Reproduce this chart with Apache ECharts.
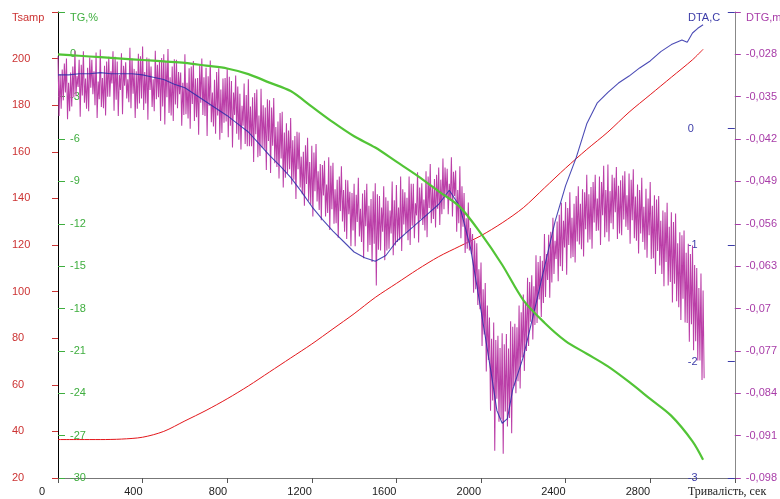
<!DOCTYPE html>
<html><head><meta charset="utf-8">
<script src="https://cdn.jsdelivr.net/npm/echarts/dist/echarts.min.js"></script>
<style>html,body{margin:0;padding:0;background:#fff}#c{width:780px;height:499px}</style>
</head><body><div id="c"></div>
<script>
// ---- data ----
const timeGrid = [0,100,200,300,400,500,600,700,800,900,1000,1100,1200,1300,1400,1500,1600,1700,1800,1900,2000,2100,2200,2300,2400,2500,2600,2700,2800,2900,3000,3050];
const tsamp = [36.5,36.5,36.5,36.7,37.5,40.0,44.5,49.0,54.0,59.5,65.5,71.5,77.5,84.0,90.5,97.5,103.5,109.5,115.0,119.5,124.0,129.5,136.0,144.5,153.0,161.0,168.5,177.0,184.5,192.0,199.5,204.0];
const tg = [0.0,-0.1,-0.2,-0.3,-0.4,-0.5,-0.6,-0.8,-1.0,-1.4,-2.0,-2.6,-3.7,-4.8,-5.8,-6.6,-7.6,-8.6,-9.7,-10.8,-12.7,-14.9,-17.4,-19.0,-20.3,-21.2,-22.1,-23.2,-24.4,-25.6,-27.4,-28.7];
const dtaTime = [0,50,100,150,200,250,300,350,400,450,500,550,600,650,700,750,800,850,900,950,1000,1050,1100,1150,1200,1250,1300,1350,1400,1450,1500,1550,1600,1650,1700,1750,1800,1850,1900,1950,2000,2050,2075,2100,2125,2150,2200,2250,2300,2350,2400,2450,2500,2550,2600,2650,2700,2750,2800,2850,2900,2950,2975,3000,3025,3050];
const dta = [0.46,0.46,0.47,0.47,0.48,0.47,0.47,0.47,0.46,0.44,0.42,0.38,0.35,0.29,0.23,0.17,0.11,0.04,-0.03,-0.13,-0.23,-0.32,-0.42,-0.54,-0.67,-0.78,-0.88,-0.97,-1.06,-1.11,-1.14,-1.09,-0.97,-0.89,-0.81,-0.73,-0.65,-0.53,-0.67,-1.02,-1.56,-2.12,-2.42,-2.53,-2.49,-2.24,-1.96,-1.58,-1.19,-0.80,-0.49,-0.25,0.04,0.22,0.31,0.39,0.45,0.52,0.58,0.66,0.72,0.76,0.74,0.82,0.86,0.89];
// DTG oscillation, one cycle every dtgPeriod seconds from dtgStart:
// big spike top (A) at +0, big spike bottom (A) at +5, small spike top (B) at +10, small spike bottom (B) at +15
const dtgStart = 0, dtgPeriod = 20;
const dtgPeaksA = [
-0.0283,-0.0305,-0.0287,-0.0310,-0.0274, -0.0289,-0.0275,-0.0302,-0.0289,-0.0277,
-0.0272,-0.0299,-0.0284,-0.0275,-0.0292, -0.0278,-0.0293,-0.0269,-0.0304,-0.0279,
-0.0267,-0.0285,-0.0300,-0.0274,-0.0290, -0.0280,-0.0271,-0.0300,-0.0289,-0.0310,
-0.0280,-0.0303,-0.0291,-0.0319,-0.0287, -0.0302,-0.0290,-0.0322,-0.0303,-0.0320,
-0.0303,-0.0324,-0.0315,-0.0345,-0.0328, -0.0321,-0.0351,-0.0338,-0.0337,-0.0368,
-0.0356,-0.0352,-0.0391,-0.0375,-0.0394, -0.0385,-0.0415,-0.0409,-0.0441,-0.0418,
-0.0431,-0.0428,-0.0461,-0.0456,-0.0450, -0.0459,-0.0487,-0.0465,-0.0487,-0.0507,
-0.0494,-0.0484,-0.0510,-0.0494,-0.0519, -0.0493,-0.0514,-0.0498,-0.0522,-0.0490,
-0.0496,-0.0482,-0.0508,-0.0482,-0.0494, -0.0475,-0.0493,-0.0473,-0.0461,-0.0486,
-0.0467,-0.0452,-0.0469,-0.0450,-0.0472, -0.0465,-0.0509,-0.0525,-0.0577,-0.0592,
-0.0624,-0.0658,-0.0715,-0.0723,-0.0745, -0.0741,-0.0742,-0.0721,-0.0725,-0.0695,
-0.0677,-0.0649,-0.0645,-0.0612,-0.0613, -0.0577,-0.0578,-0.0550,-0.0556,-0.0525,
-0.0524,-0.0508,-0.0527,-0.0498,-0.0503, -0.0479,-0.0499,-0.0479,-0.0482,-0.0464,
-0.0462,-0.0479,-0.0466,-0.0488,-0.0473, -0.0477,-0.0470,-0.0495,-0.0484,-0.0502,
-0.0491,-0.0513,-0.0514,-0.0538,-0.0525, -0.0541,-0.0543,-0.0574,-0.0571,-0.0593,
-0.0596,-0.0633,-0.0642];
const dtgTroughsA = [
-0.0382,-0.0356,-0.0387,-0.0366,-0.0349, -0.0383,-0.0360,-0.0374,-0.0346,-0.0385,
-0.0367,-0.0381,-0.0350,-0.0373,-0.0382, -0.0379,-0.0353,-0.0369,-0.0385,-0.0361,
-0.0372,-0.0388,-0.0367,-0.0354,-0.0390, -0.0396,-0.0377,-0.0390,-0.0369,-0.0398,
-0.0379,-0.0403,-0.0390,-0.0413,-0.0380, -0.0415,-0.0392,-0.0411,-0.0421,-0.0393,
-0.0417,-0.0434,-0.0411,-0.0437,-0.0428, -0.0432,-0.0458,-0.0450,-0.0434,-0.0471,
-0.0476,-0.0460,-0.0485,-0.0500,-0.0477, -0.0495,-0.0519,-0.0500,-0.0530,-0.0522,
-0.0548,-0.0523,-0.0554,-0.0548,-0.0570, -0.0560,-0.0583,-0.0556,-0.0585,-0.0597,
-0.0597,-0.0581,-0.0617,-0.0606,-0.0623, -0.0662,-0.0604,-0.0620,-0.0601,-0.0612,
-0.0590,-0.0605,-0.0575,-0.0595,-0.0584, -0.0591,-0.0562,-0.0582,-0.0559,-0.0566,
-0.0562,-0.0536,-0.0544,-0.0548,-0.0573, -0.0584,-0.0608,-0.0604,-0.0674,-0.0694,
-0.0762,-0.0804,-0.0869,-0.0935,-0.0887, -0.0940,-0.0895,-0.0906,-0.0840,-0.0832,
-0.0803,-0.0762,-0.0751,-0.0724,-0.0714, -0.0681,-0.0682,-0.0643,-0.0655,-0.0638,
-0.0644,-0.0617,-0.0624,-0.0594,-0.0614, -0.0591,-0.0601,-0.0572,-0.0595,-0.0582,
-0.0589,-0.0569,-0.0585,-0.0579,-0.0565, -0.0593,-0.0584,-0.0609,-0.0590,-0.0616,
-0.0618,-0.0643,-0.0629,-0.0663,-0.0662, -0.0690,-0.0688,-0.0719,-0.0723,-0.0755,
-0.0769,-0.0786,-0.0818];
const dtgPeaksB = [
-0.0313,-0.0295,-0.0327,-0.0300,-0.0316, -0.0297,-0.0320,-0.0285,-0.0308,-0.0325,
-0.0319,-0.0292,-0.0308,-0.0284,-0.0314, -0.0299,-0.0321,-0.0287,-0.0308,-0.0283,
-0.0309,-0.0287,-0.0321,-0.0297,-0.0286, -0.0292,-0.0318,-0.0288,-0.0309,-0.0327,
-0.0327,-0.0300,-0.0320,-0.0298,-0.0318, -0.0316,-0.0343,-0.0309,-0.0338,-0.0319,
-0.0317,-0.0343,-0.0333,-0.0365,-0.0347, -0.0366,-0.0344,-0.0381,-0.0364,-0.0354,
-0.0368,-0.0400,-0.0377,-0.0409,-0.0406, -0.0422,-0.0408,-0.0449,-0.0430,-0.0458,
-0.0442,-0.0473,-0.0463,-0.0495,-0.0464, -0.0503,-0.0482,-0.0504,-0.0488,-0.0509,
-0.0512,-0.0535,-0.0504,-0.0530,-0.0506, -0.0511,-0.0533,-0.0516,-0.0538,-0.0521,
-0.0533,-0.0503,-0.0517,-0.0494,-0.0526, -0.0500,-0.0520,-0.0482,-0.0499,-0.0479,
-0.0487,-0.0467,-0.0494,-0.0474,-0.0504, -0.0498,-0.0551,-0.0567,-0.0587,-0.0635,
-0.0668,-0.0695,-0.0750,-0.0752,-0.0765, -0.0759,-0.0766,-0.0730,-0.0731,-0.0706,
-0.0689,-0.0656,-0.0663,-0.0623,-0.0621, -0.0610,-0.0573,-0.0588,-0.0545,-0.0555,
-0.0534,-0.0550,-0.0514,-0.0527,-0.0508, -0.0511,-0.0491,-0.0518,-0.0491,-0.0504,
-0.0506,-0.0484,-0.0497,-0.0480,-0.0513, -0.0487,-0.0515,-0.0504,-0.0532,-0.0518,
-0.0530,-0.0520,-0.0555,-0.0541,-0.0565, -0.0557,-0.0592,-0.0579,-0.0608,-0.0610,
-0.0628,-0.0666,-0.0670];
const dtgTroughsB = [
-0.0370,-0.0343,-0.0374,-0.0351,-0.0334, -0.0348,-0.0370,-0.0335,-0.0364,-0.0354,
-0.0369,-0.0350,-0.0328,-0.0355,-0.0339, -0.0332,-0.0359,-0.0345,-0.0370,-0.0353,
-0.0361,-0.0339,-0.0374,-0.0351,-0.0366, -0.0351,-0.0381,-0.0363,-0.0346,-0.0380,
-0.0386,-0.0362,-0.0384,-0.0360,-0.0382, -0.0365,-0.0399,-0.0381,-0.0410,-0.0391,
-0.0398,-0.0380,-0.0421,-0.0398,-0.0432, -0.0432,-0.0412,-0.0448,-0.0436,-0.0423,
-0.0431,-0.0466,-0.0452,-0.0484,-0.0470, -0.0487,-0.0470,-0.0511,-0.0494,-0.0528,
-0.0506,-0.0537,-0.0513,-0.0542,-0.0536, -0.0559,-0.0539,-0.0573,-0.0544,-0.0571,
-0.0557,-0.0590,-0.0564,-0.0595,-0.0593, -0.0603,-0.0573,-0.0604,-0.0576,-0.0596,
-0.0587,-0.0561,-0.0587,-0.0563,-0.0546, -0.0552,-0.0571,-0.0534,-0.0552,-0.0535,
-0.0544,-0.0515,-0.0522,-0.0514,-0.0559, -0.0565,-0.0601,-0.0610,-0.0668,-0.0701,
-0.0743,-0.0785,-0.0852,-0.0849,-0.0883, -0.0870,-0.0881,-0.0828,-0.0820,-0.0781,
-0.0770,-0.0722,-0.0727,-0.0685,-0.0691, -0.0653,-0.0657,-0.0618,-0.0630,-0.0599,
-0.0595,-0.0615,-0.0589,-0.0602,-0.0569, -0.0586,-0.0558,-0.0571,-0.0546,-0.0574,
-0.0559,-0.0541,-0.0576,-0.0553,-0.0570, -0.0554,-0.0588,-0.0576,-0.0603,-0.0579,
-0.0617,-0.0605,-0.0643,-0.0623,-0.0656, -0.0659,-0.0698,-0.0684,-0.0724,-0.0726,
-0.0754,-0.0786,-0.0815];
// tick labels
const xTicks = ['0','400','800','1200','1600','2000','2400','2800'];
const xTitle = 'Тривалість, сек';
const tsampTicks = ['20','40','60','80','100','120','140','160','180','200'];
const tgTicks = ['-30','-27','-24','-21','-18','-15','-12','-9','-6','-3','0'];
const dtaTicks = ['-3','-2','-1','0'];
const dtgTicks = ['-0,098','-0,091','-0,084','-0,077','-0,07','-0,063','-0,056','-0,049','-0,042','-0,035','-0,028'];
const axisTitles = ['Tsamp','TG,%','DTA,C','DTG,m'];

// ---- build ----
const C = {red:'#e3161b', redT:'#cc3333', green:'#52c436', greenT:'#3fae3f', blue:'#2b2ba8', blueT:'#3c3ca8', purple:'#bb3fa8', purpleT:'#a83ca8'};
const FONT = 'Liberation Sans';
const pair = (xs, ys) => xs.map((x, i) => [x, ys[i]]);
const dtgData = [];
const q = dtgPeriod / 4;
for (let i = 0; i < dtgPeaksA.length; i++) {
  const t = dtgStart + i * dtgPeriod;
  dtgData.push([t, dtgPeaksA[i]]);
  dtgData.push([t + q, dtgTroughsA[i]]);
  dtgData.push([t + 2 * q, dtgPeaksB[i]]);
  dtgData.push([t + 3 * q, dtgTroughsB[i]]);
}
function fmt(list, min, step) {
  return v => { const k = Math.round((v - min) / step); return list[k] !== undefined ? list[k] : ''; };
}
function yAxis(o) {
  return Object.assign({type: 'value', splitLine: {show: false}}, o);
}
const chart = echarts.init(document.getElementById('c'), null, {renderer: 'canvas'});
chart.setOption({
  animation: false,
  backgroundColor: '#fff',
  grid: {left: 58, right: 45, top: 12, bottom: 21, containLabel: false},
  xAxis: {
    type: 'value', min: 0, max: 3200, interval: 400,
    splitLine: {show: false},
    axisLine: {onZero: false, lineStyle: {color: '#777', width: 1}},
    axisTick: {show: true, length: 5, lineStyle: {color: '#555'}},
    axisLabel: {
      margin: 8, align: 'right', fontFamily: FONT, fontSize: 11, color: '#222',
      formatter: v => { const k = Math.round(v / 400); if (k === 0) return '{z|0}'; return xTicks[k] || ''; },
      rich: {z: {fontFamily: FONT, fontSize: 11, color: '#222', padding: [0, 13, 0, 0]}}
    }
  },
  yAxis: [
    yAxis({min: 20, max: 220, interval: 20, position: 'left',
      axisLine: {show: true, onZero: false, lineStyle: {color: '#000'}},
      axisTick: {show: true, inside: false, length: 6, lineStyle: {color: C.redT}},
      axisLabel: {inside: false, margin: 46, align: 'left', color: C.redT, fontFamily: FONT, fontSize: 11, padding: [0,0,8,0], formatter: fmt(tsampTicks, 20, 20)}}),
    yAxis({min: -30, max: 3, interval: 3, position: 'left',
      axisLine: {show: false, onZero: false},
      axisTick: {show: true, inside: true, length: 7, lineStyle: {color: C.greenT}},
      axisLabel: {inside: true, margin: 12, align: 'left', color: C.greenT, fontFamily: FONT, fontSize: 11, padding: [0,0,8,0], formatter: fmt(tgTicks, -30, 3)}}),
    yAxis({min: -3, max: 1, interval: 1, position: 'right',
      axisLine: {show: true, onZero: false, lineStyle: {color: '#888'}},
      axisTick: {show: true, inside: true, length: 7, lineStyle: {color: C.blueT}},
      axisLabel: {inside: true, margin: 47, align: 'left', color: C.blueT, fontFamily: FONT, fontSize: 11, padding: [0,0,8,0], formatter: fmt(dtaTicks, -3, 1)}}),
    yAxis({min: -0.098, max: -0.021, interval: 0.007, position: 'right',
      axisLine: {show: false, onZero: false},
      axisTick: {show: true, inside: false, length: 6, lineStyle: {color: C.purpleT}},
      axisLabel: {inside: false, margin: 11, align: 'left', color: C.purpleT, fontFamily: FONT, fontSize: 11, padding: [0,0,8,0], formatter: fmt(dtgTicks, -0.098, 0.007)}})
  ],
  graphic: [
    {type: 'text', left: 12, top: 12, style: {text: axisTitles[0], fill: C.redT, font: '11px ' + FONT}},
    {type: 'text', left: 70, top: 12, style: {text: axisTitles[1], fill: C.greenT, font: '11px ' + FONT}},
    {type: 'text', left: 688, top: 12, style: {text: axisTitles[2], fill: C.blueT, font: '11px ' + FONT}},
    {type: 'text', left: 746, top: 12, style: {text: axisTitles[3], fill: C.purpleT, font: '11px ' + FONT}},
    {type: 'text', left: 688, top: 486, style: {text: xTitle, fill: '#222', font: '12px Liberation Serif'}}
  ],
  series: [
    {name: 'Tsamp', type: 'line', yAxisIndex: 0, data: pair(timeGrid, tsamp), showSymbol: false, smooth: 0.3, z: 2,
      lineStyle: {color: C.red, width: 1}},
    {name: 'DTG', type: 'line', yAxisIndex: 3, data: dtgData, showSymbol: false, z: 3,
      lineStyle: {color: C.purple, width: 1.05}},
    {name: 'DTA', type: 'line', yAxisIndex: 2, data: pair(dtaTime, dta), showSymbol: false, z: 4,
      lineStyle: {color: C.blue, width: 1.1, opacity: 0.85}},
    {name: 'TG', type: 'line', yAxisIndex: 1, data: pair(timeGrid, tg), showSymbol: false, smooth: 0.3, z: 5,
      lineStyle: {color: C.green, width: 2.2}}
  ]
});
</script></body></html>
